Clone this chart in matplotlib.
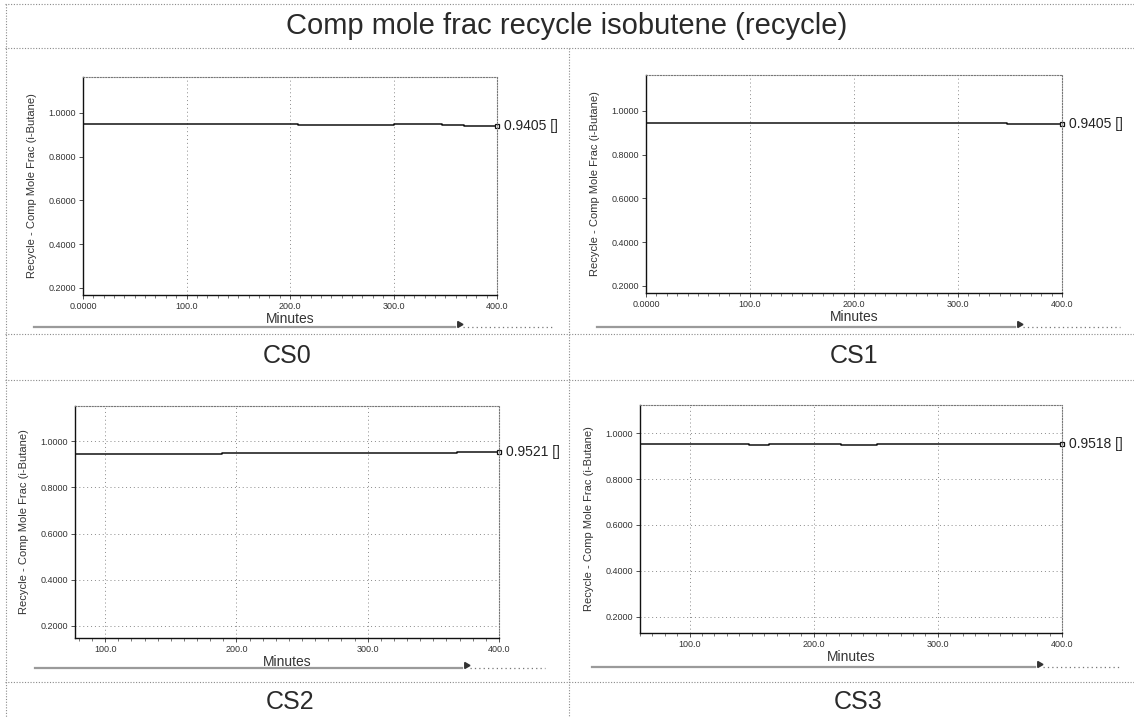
import matplotlib
matplotlib.use("Agg")
import matplotlib.pyplot as plt
from matplotlib.lines import Line2D
from matplotlib.ticker import MultipleLocator

W, H = 1134, 717

plt.rcParams["font.family"] = ["Liberation Sans", "DejaVu Sans"]

title = "Comp mole frac recycle isobutene (recycle)"
case_names = ["CS0", "CS1", "CS2", "CS3"]
y_label = "Recycle - Comp Mole Frac (i-Butane)"
x_label = "Minutes"
unit = "[]"

# Step-change times (minutes) and recycle i-butane mole fraction after each change
cs0_time = [0, 208, 300, 347, 368, 400]
cs0_frac = [0.948, 0.945, 0.947, 0.943, 0.9405, 0.9405]

cs1_time = [0, 347, 400]
cs1_frac = [0.946, 0.9405, 0.9405]

cs2_time = [77, 189, 215, 341, 368, 400]
cs2_frac = [0.9445, 0.948, 0.9465, 0.948, 0.9521, 0.9521]

cs3_time = [60, 148, 164, 222, 251, 400]
cs3_frac = [0.9518, 0.946, 0.9518, 0.947, 0.9518, 0.9518]

y_ticks = [0.2, 0.4, 0.6, 0.8, 1.0]
y_ticklabels = ["0.2000", "0.4000", "0.6000", "0.8000", "1.0000"]
x_ticks_full = [0, 100, 200, 300, 400]
x_ticklabels_full = ["0.0000", "100.0", "200.0", "300.0", "400.0"]
x_ticks_part = [100, 200, 300, 400]
x_ticklabels_part = ["100.0", "200.0", "300.0", "400.0"]

series = [
    (cs0_time, cs0_frac),
    (cs1_time, cs1_frac),
    (cs2_time, cs2_frac),
    (cs3_time, cs3_frac),
]

# panel boxes in pixels: left, right, top, bottom ; axis limits
panels = [
    dict(box=(83, 497, 77, 295), xlim=(0, 400), ylim=(0.168, 1.164),
         ticks=(x_ticks_full, x_ticklabels_full), grid="x"),
    dict(box=(646, 1062, 75, 293), xlim=(0, 400), ylim=(0.168, 1.164),
         ticks=(x_ticks_full, x_ticklabels_full), grid="x"),
    dict(box=(75, 499, 406, 638), xlim=(77, 400), ylim=(0.148, 1.152),
         ticks=(x_ticks_part, x_ticklabels_part), grid="both"),
    dict(box=(640, 1062, 405, 633), xlim=(60, 400), ylim=(0.13, 1.122),
         ticks=(x_ticks_part, x_ticklabels_part), grid="both"),
]

fig = plt.figure(figsize=(W / 100, H / 100), dpi=100)
fig.patch.set_facecolor("white")


def fx(x):
    return x / W


def fy(y):
    return 1 - y / H


def fig_line(x0, y0, x1, y1, **kw):
    fig.add_artist(Line2D([fx(x0), fx(x1)], [fy(y0), fy(y1)],
                          transform=fig.transFigure, **kw))


# table grid
grid_kw = dict(color="#8a8a8a", lw=0.8, linestyle=(0, (1, 1.5)))
for yy in (4, 48, 334, 380, 682):
    fig_line(5, yy, 1134, yy, **grid_kw)
fig_line(6, 4, 6, 717, **grid_kw)
fig_line(569, 48, 569, 717, **grid_kw)

fig.text(fx(567), fy(26), title, ha="center", va="center", fontsize=21,
         color="#2a2a2a")

label_pos = [(287, 356), (854, 356), (290, 702), (858, 702)]
for name, (lx, ly) in zip(case_names, label_pos):
    fig.text(fx(lx), fy(ly), name, ha="center", va="center", fontsize=18,
             color="#2a2a2a")

# scroll bars under each chart
scroll = [(34, 455, 553, 327), (597, 1015, 1120, 327),
          (35, 462, 545, 668), (592, 1035, 1120, 667)]
for x0, x1, x2, yy in scroll:
    fig_line(x0, yy, x1, yy, color="#9a9a9a", lw=1.6)
    fig_line(x1 + 8, yy, x2, yy, color="#777777", lw=0.9,
             linestyle=(0, (1, 2.5)))
    fig.add_artist(Line2D([fx(x1 + 4)], [fy(yy - 3)], marker=(3, 0, 30),
                          ms=5, color="#333333", transform=fig.transFigure))

for (t, v), p in zip(series, panels):
    l, r, top, b = p["box"]
    ax = fig.add_axes([fx(l), fy(b), (r - l) / W, (b - top) / H])
    ax.step(t, v, where="post", color="#111111", lw=1.1)
    ax.plot(t[-1], v[-1], marker="s", ms=3.5, mfc="white", mec="#111111",
            mew=0.9, clip_on=False)
    ax.annotate(f"{v[-1]:.4f} {unit}", xy=(t[-1], v[-1]), xytext=(5, 0),
                textcoords="offset points", va="center", ha="left",
                fontsize=10, color="#222222", annotation_clip=False)
    ax.set_xlim(*p["xlim"])
    ax.set_ylim(*p["ylim"])
    ax.set_yticks(y_ticks)
    ax.set_yticklabels(y_ticklabels)
    ax.set_xticks(p["ticks"][0])
    ax.set_xticklabels(p["ticks"][1])
    ax.xaxis.set_minor_locator(MultipleLocator(10))
    ax.tick_params(axis="both", labelsize=6.5, length=3, width=0.6,
                   colors="#333333", pad=2)
    ax.tick_params(axis="x", which="minor", length=1.8, width=0.5,
                   colors="#444444")
    ax.set_xlabel(x_label, fontsize=10, color="#333333", labelpad=1)
    ax.set_ylabel(y_label, fontsize=8, color="#333333", labelpad=8)
    for side in ("left", "bottom"):
        ax.spines[side].set_color("#111111")
        ax.spines[side].set_linewidth(1.0)
    for side in ("top", "right"):
        ax.spines[side].set_color("#777777")
        ax.spines[side].set_linewidth(0.8)
        ax.spines[side].set_linestyle((0, (1, 1.5)))
    ax.grid(axis=p["grid"], which="major", color="#8a8a8a", lw=0.7,
            linestyle=(0, (1, 3)))
    ax.set_axisbelow(True)

fig.savefig("out.png", dpi=100, facecolor="white")
